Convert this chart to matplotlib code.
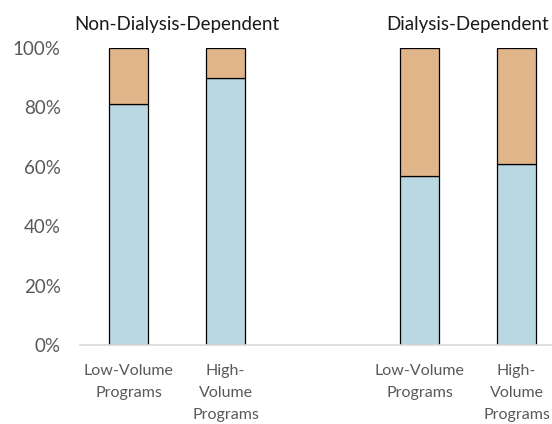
import matplotlib.pyplot as plt
import numpy as np

groups = ["Non-Dialysis-Dependent", "Dialysis-Dependent"]
programs = ["Low-Volume\nPrograms", "High-\nVolume\nPrograms"]
lower_share = [81, 90, 57, 61]   # blue part, %
upper_share = [19, 10, 43, 39]   # orange part, %

blue = '#B9D8E1'
orange = '#E1B58A'
grey = '#595959'

plt.rcParams['font.family'] = ['Lato', 'DejaVu Sans']

fig = plt.figure(figsize=(5.52, 4.24), dpi=100)
ax = fig.add_axes([80 / 552, 79 / 424, 485 / 552, 297 / 424])

# two groups with an empty slot between them
pos = np.array([0, 1, 3, 4])
ax.bar(pos, lower_share, width=0.4, color=blue, edgecolor='black', linewidth=0.9)
ax.bar(pos, upper_share, width=0.4, bottom=lower_share, color=orange,
       edgecolor='black', linewidth=0.9)

ax.set_xlim(-0.5, 4.5)
ax.set_ylim(0, 100)
ax.set_yticks(range(0, 101, 20))
ax.set_yticklabels(['%d%%' % v for v in range(0, 101, 20)])
ax.set_xticks(pos)
ax.set_xticklabels(programs * 2, linespacing=1.7, va='top')

ax.tick_params(axis='y', length=0, labelsize=13.5, colors=grey, pad=14)
ax.tick_params(axis='x', length=0, labelsize=11.5, colors=grey, pad=14)
for s in ['top', 'right', 'left']:
    ax.spines[s].set_visible(False)
ax.spines['bottom'].set_color('#D9D9D9')
ax.spines['bottom'].set_linewidth(1.2)

for i, g in enumerate(groups):
    ax.text(pos[2 * i:2 * i + 2].mean(), 108, g, ha='center', va='center',
            fontsize=13.5, color='#1a1a1a', clip_on=False)

fig.savefig('out.png', dpi=100)
